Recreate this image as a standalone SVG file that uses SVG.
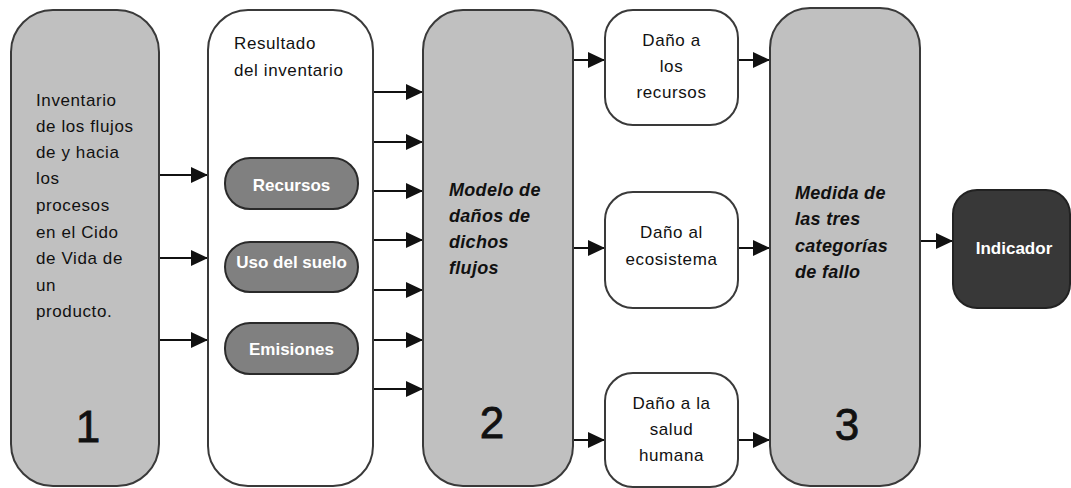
<svg xmlns="http://www.w3.org/2000/svg" width="1071" height="488" viewBox="0 0 1071 488">
<style>
  .box{fill:#c0c0c0;stroke:#3a3a3a;stroke-width:2}
  .wbox{fill:#ffffff;stroke:#3a3a3a;stroke-width:2}
  .pill{fill:#808080;stroke:#2a2a2a;stroke-width:2}
  .dark{fill:#383838;stroke:#222;stroke-width:2}
  .t{font-family:"Liberation Sans",Arial,sans-serif;font-size:17px;fill:#111;letter-spacing:0.6px}
  .c{text-anchor:middle}
  .bi{font-family:"Liberation Sans",Arial,sans-serif;font-size:18px;font-weight:bold;font-style:italic;fill:#111;letter-spacing:0.3px}
  .w{font-family:"Liberation Sans",Arial,sans-serif;font-size:17px;font-weight:bold;fill:#fff;text-anchor:middle}
  .num{font-family:"Liberation Sans",Arial,sans-serif;font-size:44px;fill:#111;stroke:#111;stroke-width:0.8;text-anchor:middle}
  .ln{stroke:#111;stroke-width:2;fill:none;marker-end:url(#ah)}
</style>
<defs>
  <marker id="ah" markerUnits="userSpaceOnUse" markerWidth="18" markerHeight="16" refX="17" refY="8" orient="auto">
    <path d="M0,0 L17,8 L0,16 z" fill="#111"/>
  </marker>
</defs>
<g id="connectors">
  <line class="ln" x1="159" y1="175" x2="208" y2="175"/>
  <line class="ln" x1="159" y1="258" x2="208" y2="258"/>
  <line class="ln" x1="159" y1="340" x2="208" y2="340"/>
  <line class="ln" x1="373" y1="92" x2="423" y2="92"/>
  <line class="ln" x1="373" y1="142" x2="423" y2="142"/>
  <line class="ln" x1="373" y1="191" x2="423" y2="191"/>
  <line class="ln" x1="373" y1="240" x2="423" y2="240"/>
  <line class="ln" x1="373" y1="290" x2="423" y2="290"/>
  <line class="ln" x1="373" y1="340" x2="423" y2="340"/>
  <line class="ln" x1="373" y1="389" x2="423" y2="389"/>
  <line class="ln" x1="573" y1="60" x2="605" y2="60"/>
  <line class="ln" x1="573" y1="248" x2="605" y2="248"/>
  <line class="ln" x1="573" y1="440" x2="605" y2="440"/>
  <line class="ln" x1="738" y1="60" x2="770" y2="60"/>
  <line class="ln" x1="738" y1="248" x2="770" y2="248"/>
  <line class="ln" x1="738" y1="440" x2="770" y2="440"/>
  <line class="ln" x1="920" y1="241" x2="953" y2="241"/>
</g>
<g id="inventario">
  <rect class="box" x="11" y="10" width="148" height="476" rx="42"/>
  <text class="t" x="36" y="106">Inventario</text>
  <text class="t" x="36" y="132">de los flujos</text>
  <text class="t" x="36" y="158">de y hacia</text>
  <text class="t" x="36" y="184">los</text>
  <text class="t" x="36" y="211">procesos</text>
  <text class="t" x="36" y="238">en el Cido</text>
  <text class="t" x="36" y="264">de Vida de</text>
  <text class="t" x="36" y="291">un</text>
  <text class="t" x="36" y="317">producto.</text>
  <text class="num" x="88" y="442">1</text>
</g>
<g id="resultado">
  <rect class="wbox" x="208" y="10" width="165" height="476" rx="40"/>
  <text class="t" x="234" y="49">Resultado</text>
  <text class="t" x="234" y="76">del inventario</text>
</g>
<g id="recursos">
  <rect class="pill" x="225" y="158" width="133" height="51" rx="25"/>
  <text class="w" x="291.5" y="191">Recursos</text>
</g>
<g id="uso-suelo">
  <rect class="pill" x="225" y="242" width="133" height="50" rx="25"/>
  <text class="w" x="291.5" y="268">Uso del suelo</text>
</g>
<g id="emisiones">
  <rect class="pill" x="225" y="323" width="133" height="51" rx="25"/>
  <text class="w" x="291.5" y="355">Emisiones</text>
</g>
<g id="modelo">
  <rect class="box" x="423" y="10" width="150" height="476" rx="40"/>
  <text class="bi" x="449" y="196">Modelo de</text>
  <text class="bi" x="449" y="222">daños de</text>
  <text class="bi" x="449" y="248">dichos</text>
  <text class="bi" x="449" y="274">flujos</text>
  <text class="num" x="492" y="438">2</text>
</g>
<g id="dano-recursos">
  <rect class="wbox" x="605" y="10" width="133" height="115" rx="28"/>
  <text class="t c" x="671.5" y="46">Daño a</text>
  <text class="t c" x="671.5" y="72">los</text>
  <text class="t c" x="671.5" y="98">recursos</text>
</g>
<g id="dano-ecosistema">
  <rect class="wbox" x="605" y="192" width="133" height="116" rx="28"/>
  <text class="t c" x="671.5" y="238">Daño al</text>
  <text class="t c" x="671.5" y="265">ecosistema</text>
</g>
<g id="dano-salud">
  <rect class="wbox" x="605" y="373" width="133" height="114" rx="28"/>
  <text class="t c" x="671.5" y="409">Daño a la</text>
  <text class="t c" x="671.5" y="435">salud</text>
  <text class="t c" x="671.5" y="461">humana</text>
</g>
<g id="medida">
  <rect class="box" x="770" y="8" width="150" height="478" rx="40"/>
  <text class="bi" x="795" y="199">Medida de</text>
  <text class="bi" x="795" y="225">las tres</text>
  <text class="bi" x="795" y="252">categorías</text>
  <text class="bi" x="795" y="278">de fallo</text>
  <text class="num" x="847" y="440">3</text>
</g>
<g id="indicador">
  <rect class="dark" x="953" y="190" width="117" height="118" rx="24"/>
  <text class="w" x="1014" y="254">Indicador</text>
</g>
</svg>
